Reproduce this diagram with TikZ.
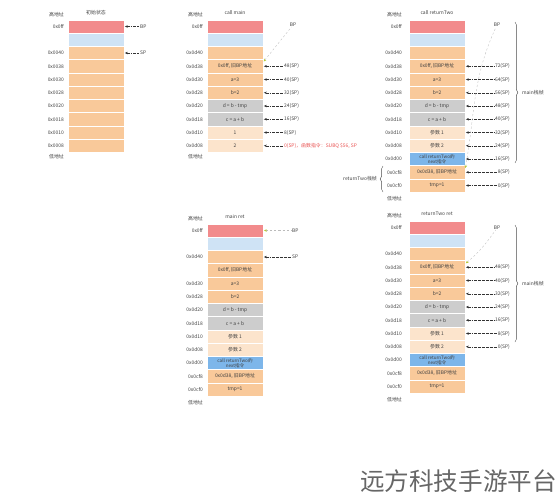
\documentclass[tikz,border=0pt]{standalone}
\usepackage{fontspec}
\setmainfont{Noto Sans CJK SC}
\usetikzlibrary{arrows.meta, decorations.pathreplacing}

\definecolor{bpred}{HTML}{F28B8C}
\definecolor{topblue}{HTML}{CFE3F5}
\definecolor{stackorange}{HTML}{F9C99A}
\definecolor{tmpgray}{HTML}{CDCDCD}
\definecolor{argpeach}{HTML}{FCE4CC}
\definecolor{nextblue}{HTML}{7DB6EA}
\definecolor{notered}{HTML}{E8504F}
\definecolor{bpline}{HTML}{BBBBBB}
\definecolor{bphead}{HTML}{B5C936}

\begin{document}
\begin{tikzpicture}[x=0.05cm, y=-0.05cm,
    txt/.style={font=\fontsize{7}{8}\selectfont, inner sep=0pt, text=black!75},
    slot/.style={txt, draw=white, line width=0.8pt, minimum width=2.8cm, minimum height=0.6625cm, align=center},
    bpcell/.style={slot, fill=bpred},
    topcell/.style={slot, fill=topblue},
    stackcell/.style={slot, fill=stackorange},
    tmpcell/.style={slot, fill=tmpgray},
    argcell/.style={slot, fill=argpeach},
    nextcell/.style={slot, fill=nextblue, font=\fontsize{6.5}{7}\selectfont},
    addr/.style={txt, anchor=east},
    ptr/.style={{Stealth[length=4pt, width=3.5pt]}-, shorten >=1.5pt, shorten <=1pt, line width=0.5pt, dash pattern=on 2.5pt off 1.2pt on 0.6pt off 1.2pt, black!80},
    bpptr/.style={{Stealth[length=4pt, width=3.5pt, color=bphead]}-, shorten <=1pt, line width=0.5pt, dashed, bpline},
    stackbrace/.style={decorate, decoration={brace, amplitude=4pt}, line width=0.6pt, black!70}
]
    \useasboundingbox (0,0) rectangle (560,500);
    % Set the height of one stack slot
    \def\rh{13.25}

    % Initial state
    \node[txt] (t1) at (96,13) {初始状态};
    \node[addr] (h1) at (64,15) {高地址};
    \node[bpcell] (p1r0) at (96,{53-2*\rh}) {};
    \node[topcell] (p1r1) at (96,{53-\rh}) {};
    \node[stackcell] (p1r2) at (96,53) {};
    \node[stackcell] (p1r3) at (96,{53+\rh}) {};
    \node[stackcell] (p1r4) at (96,{53+2*\rh}) {};
    \node[stackcell] (p1r5) at (96,{53+3*\rh}) {};
    \node[stackcell] (p1r6) at (96,{53+4*\rh}) {};
    \node[stackcell] (p1r7) at (96,{53+5*\rh}) {};
    \node[stackcell] (p1r8) at (96,{53+6*\rh}) {};
    \node[stackcell] (p1r9) at (96,{53+7*\rh}) {};
    \node[addr] (p1a0) at (64,{53-2*\rh}) {0x0ff};
    \node[addr] (p1a2) at (64,53) {0x0040};
    \node[addr] (p1a3) at (64,{53+\rh}) {0x0038};
    \node[addr] (p1a4) at (64,{53+2*\rh}) {0x0030};
    \node[addr] (p1a5) at (64,{53+3*\rh}) {0x0028};
    \node[addr] (p1a6) at (64,{53+4*\rh}) {0x0020};
    \node[addr] (p1a7) at (64,{53+5*\rh}) {0x0018};
    \node[addr] (p1a8) at (64,{53+6*\rh}) {0x0010};
    \node[addr] (p1a9) at (64,{53+7*\rh}) {0x0008};
    \node[addr] (l1) at (64,157) {低地址};
    \node[txt, anchor=west] (bp1) at (140,{53-2*\rh}) {BP};
    \node[txt, anchor=west] (sp1) at (140,53) {SP};
    \draw[ptr] (p1r0) -- (bp1);
    \draw[ptr] (p1r2) -- (sp1);

    % call main
    \node[txt] (t2) at (235,13) {call main};
    \node[addr] (h2) at (203,15) {高地址};
    \node[bpcell] (p2r0) at (235,{53-2*\rh}) {};
    \node[topcell] (p2r1) at (235,{53-\rh}) {};
    \node[stackcell] (p2r2) at (235,53) {};
    \node[stackcell] (p2r3) at (235,{53+\rh}) {0x0ff, 旧BP地址};
    \node[stackcell] (p2r4) at (235,{53+2*\rh}) {a=3};
    \node[stackcell] (p2r5) at (235,{53+3*\rh}) {b=2};
    \node[tmpcell] (p2r6) at (235,{53+4*\rh}) {d = b - tmp};
    \node[tmpcell] (p2r7) at (235,{53+5*\rh}) {c = a + b};
    \node[argcell] (p2r8) at (235,{53+6*\rh}) {1};
    \node[argcell] (p2r9) at (235,{53+7*\rh}) {2};
    \node[addr] (p2a0) at (203,{53-2*\rh}) {0x0ff};
    \node[addr] (p2a2) at (203,53) {0x0d40};
    \node[addr] (p2a3) at (203,{53+\rh}) {0x0d38};
    \node[addr] (p2a4) at (203,{53+2*\rh}) {0x0d30};
    \node[addr] (p2a5) at (203,{53+3*\rh}) {0x0d28};
    \node[addr] (p2a6) at (203,{53+4*\rh}) {0x0d20};
    \node[addr] (p2a7) at (203,{53+5*\rh}) {0x0d18};
    \node[addr] (p2a8) at (203,{53+6*\rh}) {0x0d10};
    \node[addr] (p2a9) at (203,{53+7*\rh}) {0x0d08};
    \node[addr] (l2) at (203,157) {低地址};
    \node[txt, anchor=west] (p2s3) at (284,{53+\rh}) {48(SP)};
    \node[txt, anchor=west] (p2s4) at (284,{53+2*\rh}) {40(SP)};
    \node[txt, anchor=west] (p2s5) at (284,{53+3*\rh}) {32(SP)};
    \node[txt, anchor=west] (p2s6) at (284,{53+4*\rh}) {24(SP)};
    \node[txt, anchor=west] (p2s7) at (284,{53+5*\rh}) {16(SP)};
    \node[txt, anchor=west] (p2s8) at (284,{53+6*\rh}) {8(SP)};
    \node[txt, anchor=west, text=notered] (p2s9) at (284,{53+7*\rh}) {0(SP)，函数指令：SUBQ \$56, SP};
    \draw[ptr] (p2r3) -- (p2s3);
    \draw[ptr] (p2r4) -- (p2s4);
    \draw[ptr] (p2r5) -- (p2s5);
    \draw[ptr] (p2r6) -- (p2s6);
    \draw[ptr] (p2r7) -- (p2s7);
    \draw[ptr] (p2r8) -- (p2s8);
    \draw[ptr] (p2r9) -- (p2s9);
    \node[txt] (bp2) at (293,25) {BP};
    \draw[bpptr] ([yshift=6pt]p2r3.east) -- (bp2);

    % call returnTwo
    \node[txt] (t3) at (437,13) {call returnTwo};
    \node[addr] (h3) at (402,15) {高地址};
    \node[bpcell] (p3r0) at (437,{53-2*\rh}) {};
    \node[topcell] (p3r1) at (437,{53-\rh}) {};
    \node[stackcell] (p3r2) at (437,53) {};
    \node[stackcell] (p3r3) at (437,{53+\rh}) {0x0ff, 旧BP地址};
    \node[stackcell] (p3r4) at (437,{53+2*\rh}) {a=3};
    \node[stackcell] (p3r5) at (437,{53+3*\rh}) {b=2};
    \node[tmpcell] (p3r6) at (437,{53+4*\rh}) {d = b - tmp};
    \node[tmpcell] (p3r7) at (437,{53+5*\rh}) {c = a + b};
    \node[argcell] (p3r8) at (437,{53+6*\rh}) {参数 1};
    \node[argcell] (p3r9) at (437,{53+7*\rh}) {参数 2};
    \node[nextcell] (p3r10) at (437,{53+8*\rh}) {call returnTwo的\\next指令};
    \node[stackcell] (p3r11) at (437,{53+9*\rh}) {0x0d38, 旧BP地址};
    \node[stackcell] (p3r12) at (437,{53+10*\rh}) {tmp=1};
    \node[addr] (p3a0) at (402,{53-2*\rh}) {0x0ff};
    \node[addr] (p3a2) at (402,53) {0x0d40};
    \node[addr] (p3a3) at (402,{53+\rh}) {0x0d38};
    \node[addr] (p3a4) at (402,{53+2*\rh}) {0x0d30};
    \node[addr] (p3a5) at (402,{53+3*\rh}) {0x0d28};
    \node[addr] (p3a6) at (402,{53+4*\rh}) {0x0d20};
    \node[addr] (p3a7) at (402,{53+5*\rh}) {0x0d18};
    \node[addr] (p3a8) at (402,{53+6*\rh}) {0x0d10};
    \node[addr] (p3a9) at (402,{53+7*\rh}) {0x0d08};
    \node[addr] (p3a10) at (402,{53+8*\rh}) {0x0d00};
    \node[addr] (p3a11) at (402,{53+9*\rh}) {0x0cf8};
    \node[addr] (p3a12) at (402,{53+10*\rh}) {0x0cf0};
    \node[addr] (l3) at (402,199) {低地址};
    \node[txt, anchor=east] (p3s3) at (510,{53+\rh}) {72(SP)};
    \node[txt, anchor=east] (p3s4) at (510,{53+2*\rh}) {64(SP)};
    \node[txt, anchor=east] (p3s5) at (510,{53+3*\rh}) {56(SP)};
    \node[txt, anchor=east] (p3s6) at (510,{53+4*\rh}) {48(SP)};
    \node[txt, anchor=east] (p3s7) at (510,{53+5*\rh}) {40(SP)};
    \node[txt, anchor=east] (p3s8) at (510,{53+6*\rh}) {32(SP)};
    \node[txt, anchor=east] (p3s9) at (510,{53+7*\rh}) {24(SP)};
    \node[txt, anchor=east] (p3s10) at (510,{53+8*\rh}) {16(SP)};
    \node[txt, anchor=east] (p3s11) at (510,{53+9*\rh}) {8(SP)};
    \node[txt, anchor=east] (p3s12) at (510,{53+10*\rh}) {0(SP)};
    \draw[ptr] (p3r3) -- (p3s3);
    \draw[ptr] (p3r4) -- (p3s4);
    \draw[ptr] (p3r5) -- (p3s5);
    \draw[ptr] (p3r6) -- (p3s6);
    \draw[ptr] (p3r7) -- (p3s7);
    \draw[ptr] (p3r8) -- (p3s8);
    \draw[ptr] (p3r9) -- (p3s9);
    \draw[ptr] (p3r10) -- (p3s10);
    \draw[ptr] (p3r11) -- (p3s11);
    \draw[ptr] (p3r12) -- (p3s12);
    \node[txt] (bp3) at (497,25) {BP};
    \draw[bpptr] ([yshift=5pt]p3r11.east) to[out=80, in=245] (bp3);
    \coordinate (m3top) at (515,22);
    \coordinate (m3bot) at (515,163);
    \draw[stackbrace] (m3top) -- (m3bot);
    \node[txt, anchor=west] (m3) at (522,93) {main栈帧};
    \coordinate (r3bot) at (383,192);
    \coordinate (r3top) at (383,166);
    \draw[stackbrace] (r3bot) -- (r3top);
    \node[txt, anchor=east] (r3) at (377,179) {returnTwo栈帧};

    % main ret
    \node[txt] (t4) at (235,217) {main ret};
    \node[addr] (h4) at (203,219) {高地址};
    \node[bpcell] (p4r0) at (235,{257-2*\rh}) {};
    \node[topcell] (p4r1) at (235,{257-\rh}) {};
    \node[stackcell] (p4r2) at (235,257) {};
    \node[stackcell] (p4r3) at (235,{257+\rh}) {0x0ff, 旧BP地址};
    \node[stackcell] (p4r4) at (235,{257+2*\rh}) {a=3};
    \node[stackcell] (p4r5) at (235,{257+3*\rh}) {b=2};
    \node[tmpcell] (p4r6) at (235,{257+4*\rh}) {d = b - tmp};
    \node[tmpcell] (p4r7) at (235,{257+5*\rh}) {c = a + b};
    \node[argcell] (p4r8) at (235,{257+6*\rh}) {参数 1};
    \node[argcell] (p4r9) at (235,{257+7*\rh}) {参数 2};
    \node[nextcell] (p4r10) at (235,{257+8*\rh}) {call returnTwo的\\next指令};
    \node[stackcell] (p4r11) at (235,{257+9*\rh}) {0x0d38, 旧BP地址};
    \node[stackcell] (p4r12) at (235,{257+10*\rh}) {tmp=1};
    \node[addr] (p4a0) at (203,{257-2*\rh}) {0x0ff};
    \node[addr] (p4a2) at (203,257) {0x0d40};
    \node[addr] (p4a4) at (203,{257+2*\rh}) {0x0d30};
    \node[addr] (p4a5) at (203,{257+3*\rh}) {0x0d28};
    \node[addr] (p4a6) at (203,{257+4*\rh}) {0x0d20};
    \node[addr] (p4a7) at (203,{257+5*\rh}) {0x0d18};
    \node[addr] (p4a8) at (203,{257+6*\rh}) {0x0d10};
    \node[addr] (p4a9) at (203,{257+7*\rh}) {0x0d08};
    \node[addr] (p4a10) at (203,{257+8*\rh}) {0x0d00};
    \node[addr] (p4a11) at (203,{257+9*\rh}) {0x0cf8};
    \node[addr] (p4a12) at (203,{257+10*\rh}) {0x0cf0};
    \node[addr] (l4) at (203,403) {低地址};
    \node[txt, anchor=west] (bp4) at (292,{257-2*\rh}) {BP};
    \node[txt, anchor=west] (sp4) at (292,257) {SP};
    \draw[bpptr] (p4r0) -- (bp4);
    \draw[ptr] (p4r2) -- (sp4);

    % returnTwo ret
    \node[txt] (t5) at (437,214) {returnTwo ret};
    \node[addr] (h5) at (402,216) {高地址};
    \node[bpcell] (p5r0) at (437,{254-2*\rh}) {};
    \node[topcell] (p5r1) at (437,{254-\rh}) {};
    \node[stackcell] (p5r2) at (437,254) {};
    \node[stackcell] (p5r3) at (437,{254+\rh}) {0x0ff, 旧BP地址};
    \node[stackcell] (p5r4) at (437,{254+2*\rh}) {a=3};
    \node[stackcell] (p5r5) at (437,{254+3*\rh}) {b=2};
    \node[tmpcell] (p5r6) at (437,{254+4*\rh}) {d = b - tmp};
    \node[tmpcell] (p5r7) at (437,{254+5*\rh}) {c = a + b};
    \node[argcell] (p5r8) at (437,{254+6*\rh}) {参数 1};
    \node[argcell] (p5r9) at (437,{254+7*\rh}) {参数 2};
    \node[nextcell] (p5r10) at (437,{254+8*\rh}) {call returnTwo的\\next指令};
    \node[stackcell] (p5r11) at (437,{254+9*\rh}) {0x0d38, 旧BP地址};
    \node[stackcell] (p5r12) at (437,{254+10*\rh}) {tmp=1};
    \node[addr] (p5a0) at (402,{254-2*\rh}) {0x0ff};
    \node[addr] (p5a2) at (402,254) {0x0d40};
    \node[addr] (p5a3) at (402,{254+\rh}) {0x0d38};
    \node[addr] (p5a4) at (402,{254+2*\rh}) {0x0d30};
    \node[addr] (p5a5) at (402,{254+3*\rh}) {0x0d28};
    \node[addr] (p5a6) at (402,{254+4*\rh}) {0x0d20};
    \node[addr] (p5a7) at (402,{254+5*\rh}) {0x0d18};
    \node[addr] (p5a8) at (402,{254+6*\rh}) {0x0d10};
    \node[addr] (p5a9) at (402,{254+7*\rh}) {0x0d08};
    \node[addr] (p5a10) at (402,{254+8*\rh}) {0x0d00};
    \node[addr] (p5a11) at (402,{254+9*\rh}) {0x0cf8};
    \node[addr] (p5a12) at (402,{254+10*\rh}) {0x0cf0};
    \node[addr] (l5) at (402,400) {低地址};
    \node[txt, anchor=east] (p5s3) at (510,{254+\rh}) {48(SP)};
    \node[txt, anchor=east] (p5s4) at (510,{254+2*\rh}) {40(SP)};
    \node[txt, anchor=east] (p5s5) at (510,{254+3*\rh}) {32(SP)};
    \node[txt, anchor=east] (p5s6) at (510,{254+4*\rh}) {24(SP)};
    \node[txt, anchor=east] (p5s7) at (510,{254+5*\rh}) {16(SP)};
    \node[txt, anchor=east] (p5s8) at (510,{254+6*\rh}) {8(SP)};
    \node[txt, anchor=east] (p5s9) at (510,{254+7*\rh}) {0(SP)};
    \draw[ptr] (p5r3) -- (p5s3);
    \draw[ptr] (p5r4) -- (p5s4);
    \draw[ptr] (p5r5) -- (p5s5);
    \draw[ptr] (p5r6) -- (p5s6);
    \draw[ptr] (p5r7) -- (p5s7);
    \draw[ptr] (p5r8) -- (p5s8);
    \draw[ptr] (p5r9) -- (p5s9);
    \node[txt] (bp5) at (497,228) {BP};
    \draw[bpptr] ([yshift=5pt]p5r3.east) to[out=40, in=235] (bp5);
    \coordinate (m5top) at (515,225);
    \coordinate (m5bot) at (515,342);
    \draw[stackbrace] (m5top) -- (m5bot);
    \node[txt, anchor=west] (m5) at (522,284) {main栈帧};

    % Watermark
    \node[anchor=east, inner sep=0pt, font=\fontsize{35}{40}\selectfont, text=black!60] (wm) at (557,481) {远方科技手游平台};
\end{tikzpicture}
\end{document}
